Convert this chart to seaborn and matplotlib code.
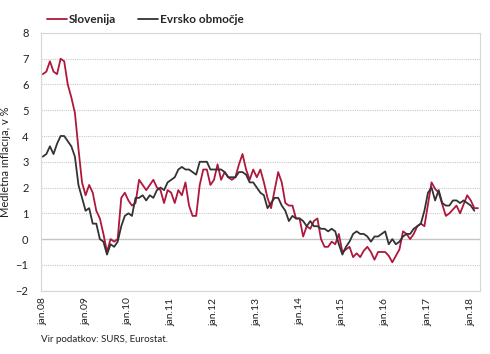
import seaborn as sns
import matplotlib.pyplot as plt
import numpy as np
import pandas as pd

# medletna inflacija (HICP), mesecno od jan.08
slovenija = [6.4, 6.5, 6.9, 6.5, 6.4, 7.0, 6.9, 6.0, 5.5, 4.9, 3.5, 2.2,
             1.7, 2.1, 1.8, 1.1, 0.8, 0.2, -0.5, 0.0, -0.1, 0.0, 1.6, 1.8,
             1.5, 1.3, 1.4, 2.3, 2.1, 1.9, 2.1, 2.3, 2.0, 1.9, 1.4, 1.9,
             1.8, 1.4, 1.9, 1.7, 2.2, 1.3, 0.9, 0.9, 2.1, 2.7, 2.7, 2.1,
             2.3, 2.9, 2.3, 2.6, 2.4, 2.3, 2.4, 2.9, 3.3, 2.7, 2.3, 2.7,
             2.4, 2.7, 2.2, 1.6, 1.2, 1.9, 2.6, 2.2, 1.4, 1.3, 1.3, 0.8,
             0.8, 0.1, 0.5, 0.4, 0.7, 0.8, 0.0, -0.3, -0.3, -0.1, -0.2, 0.2,
             -0.5, -0.4, -0.3, -0.7, -0.55, -0.7, -0.45, -0.3, -0.5, -0.8, -0.5, -0.5,
             -0.5, -0.65, -0.9, -0.65, -0.4, 0.3, 0.2, 0.0, 0.2, 0.5, 0.6, 0.5,
             1.35, 2.2, 1.95, 1.8, 1.35, 0.9, 1.0, 1.15, 1.3, 1.0, 1.35, 1.7,
             1.5, 1.2, 1.2]
evrsko = [3.2, 3.3, 3.6, 3.3, 3.7, 4.0, 4.0, 3.8, 3.6, 3.2, 2.1, 1.6,
          1.1, 1.2, 0.6, 0.6, 0.0, -0.1, -0.6, -0.2, -0.3, -0.1, 0.5, 0.9,
          1.0, 0.9, 1.6, 1.6, 1.7, 1.5, 1.7, 1.6, 1.9, 2.0, 1.9, 2.2,
          2.3, 2.4, 2.7, 2.8, 2.7, 2.7, 2.6, 2.5, 3.0, 3.0, 3.0, 2.7,
          2.7, 2.7, 2.7, 2.6, 2.4, 2.4, 2.4, 2.6, 2.6, 2.5, 2.2, 2.2,
          2.0, 1.8, 1.7, 1.2, 1.4, 1.6, 1.6, 1.3, 1.1, 0.7, 0.9, 0.8,
          0.8, 0.7, 0.5, 0.7, 0.5, 0.5, 0.4, 0.4, 0.3, 0.4, 0.3, -0.2,
          -0.6, -0.3, -0.1, 0.2, 0.3, 0.2, 0.2, 0.1, -0.1, 0.1, 0.1, 0.2,
          0.3, -0.2, 0.0, -0.2, -0.1, 0.1, 0.2, 0.2, 0.4, 0.5, 0.6, 1.1,
          1.8, 2.0, 1.5, 1.9, 1.4, 1.3, 1.3, 1.5, 1.5, 1.4, 1.5, 1.4,
          1.3, 1.1]
tick_labels = ['jan.08', 'jan.09', 'jan.10', 'jan.11', 'jan.12', 'jan.13',
               'jan.14', 'jan.15', 'jan.16', 'jan.17', 'jan.18']

df = pd.concat([
    pd.DataFrame({'mesec': np.arange(len(slovenija)), 'inflacija': slovenija, 'serija': 'Slovenija'}),
    pd.DataFrame({'mesec': np.arange(len(evrsko)), 'inflacija': evrsko, 'serija': 'Evrsko območje'}),
])

sns.set_style('white')
plt.rcParams['font.family'] = ['Lato', 'DejaVu Sans']

fig = plt.figure(figsize=(4.9, 3.54), dpi=100)
ax = fig.add_axes([0.0837, 0.179, 0.896, 0.728])

sns.lineplot(data=df, x='mesec', y='inflacija', hue='serija',
             palette={'Slovenija': '#b0173c', 'Evrsko območje': '#333333'},
             linewidth=1.3, ax=ax)

ax.set_ylim(-2, 8)
ax.set_xlim(-0.5, 122.6)
ax.set_yticks(range(-2, 9))
ax.set_xticks(range(0, 121, 12))
ax.set_xticklabels(tick_labels, rotation=90)
ax.tick_params(axis='both', length=0, labelsize=7.5, colors='#222222')
ax.tick_params(axis='y', pad=9, labelsize=8)
ax.tick_params(axis='x', pad=5)

# mreza: crtkane linije, nicla polna
for v in range(-2, 9):
    if v == 0:
        ax.axhline(v, color='#c4c4c4', lw=1.0, zorder=0)
    else:
        ax.axhline(v, color='#c8c8c8', lw=0.8, ls=(0, (1, 1)), zorder=0)

for s in ax.spines.values():
    s.set_color('#d6d6d6')
    s.set_linewidth(0.8)

ax.set_xlabel('')
ax.set_ylabel('Medletna inflacija, v %', fontsize=8, color='#222222')
ax.yaxis.set_label_coords(-0.068, 0.5)

handles, labels = ax.get_legend_handles_labels()
ax.legend(handles, labels, ncol=2, frameon=False, loc='lower left',
          bbox_to_anchor=(0.095, 0.93), bbox_transform=fig.transFigure,
          borderaxespad=0, borderpad=0, handlelength=1.7, handletextpad=0.15,
          columnspacing=1.9, prop={'weight': 'bold', 'size': 8.5})

fig.text(41 / 490, 1 - 340 / 354, 'Vir podatkov: SURS, Eurostat.', fontsize=7,
         color='#222222', va='center')

fig.savefig('out.png', dpi=100)
